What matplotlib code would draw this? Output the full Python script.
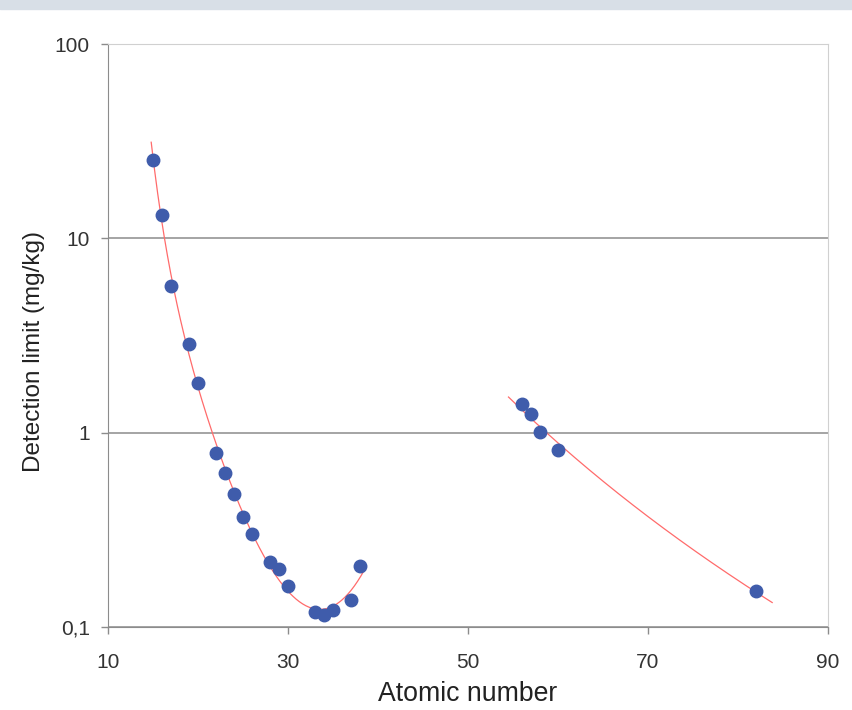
import numpy as np
import matplotlib
matplotlib.use("Agg")
import matplotlib.pyplot as plt
from matplotlib.ticker import FixedLocator, FixedFormatter, NullLocator

# lighter elements (Z 15-38)
z_light = [15, 16, 17, 19, 20, 22, 23, 24, 25, 26, 28, 29, 30, 33, 34, 35, 37, 38]
dl_light = [25.3, 13.2, 5.7, 2.87, 1.81, 0.79, 0.62, 0.485, 0.37, 0.30,
            0.217, 0.198, 0.163, 0.120, 0.115, 0.122, 0.138, 0.207]

# heavier elements
z_heavy = [56, 57, 58, 60, 82]
dl_heavy = [1.41, 1.25, 1.01, 0.81, 0.154]

y_ticks = [0.1, 1, 10, 100]
y_ticklabels = ["0,1", "1", "10", "100"]
x_ticks = [10, 30, 50, 70, 90]

plt.rcParams['font.family'] = ['Liberation Sans', 'DejaVu Sans']

fig = plt.figure(figsize=(8.52, 7.1), dpi=100)
fig.patches.append(plt.Rectangle((0, 1 - 9/710), 1, 9/710, transform=fig.transFigure,
                                 color="#d8dfe7", zorder=0))
ax = fig.add_axes([108/852, 1 - 627/710, 720/852, 583/710])

# trendlines, fitted in log-log space from the points
c1 = np.polyfit(np.log10(z_light), np.log10(dl_light), 4)
xf1 = np.linspace(14.8, 38.7, 200)
ax.plot(xf1, 10**np.polyval(c1, np.log10(xf1)), color="#ff6b6b", lw=0.9, zorder=2)

c2 = np.polyfit(np.log10(z_heavy), np.log10(dl_heavy), 1)
xf2 = np.linspace(54.5, 83.8, 200)
ax.plot(xf2, 10**np.polyval(c2, np.log10(xf2)), color="#ff6b6b", lw=0.9, zorder=2)

ax.plot(z_light, dl_light, "o", color="#3f5cab", ms=9, mec="#3f5cab", zorder=3)
ax.plot(z_heavy, dl_heavy, "o", color="#3f5cab", ms=9, mec="#3f5cab", zorder=3)

ax.set_yscale("log")
ax.set_ylim(0.1, 100)
ax.set_xlim(10, 90)
ax.yaxis.set_major_locator(FixedLocator(y_ticks))
ax.yaxis.set_major_formatter(FixedFormatter(y_ticklabels))
ax.yaxis.set_minor_locator(NullLocator())
ax.set_xticks(x_ticks)

ax.grid(axis="y", which="major", color="#8c8c8c", lw=1.1)
for s in ["left", "bottom"]:
    ax.spines[s].set_color("#8c8c8c")
for s in ["top", "right"]:
    ax.spines[s].set_color("#d0d0d0")
ax.tick_params(axis="both", colors="#8c8c8c", labelcolor="#333333",
               labelsize=15, length=5, width=1)
ax.tick_params(axis="x", pad=13.5)
ax.tick_params(axis="y", pad=8)

ax.set_xlabel("Atomic number", fontsize=19.2, color="#222222", labelpad=7)
ax.set_ylabel("Detection limit (mg/kg)", fontsize=17.5, color="#222222")
ax.yaxis.set_label_coords(-0.088, 0.472)

fig.savefig("out.png", dpi=100)
